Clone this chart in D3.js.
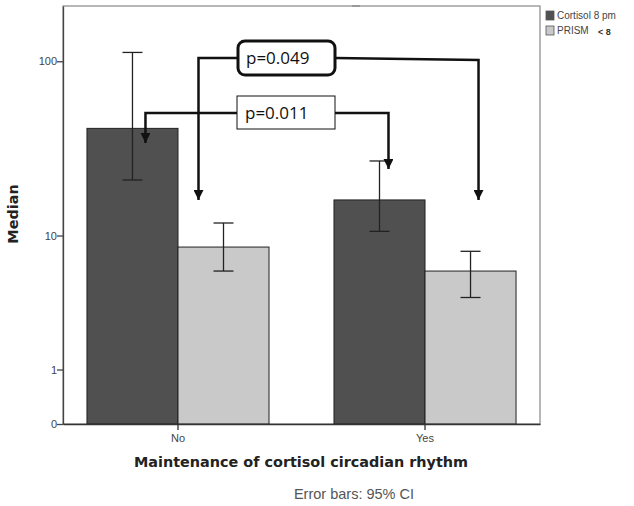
<!DOCTYPE html>
<html><head><meta charset="utf-8">
<script src="https://cdn.jsdelivr.net/npm/d3@7"></script>
<style>body{margin:0;background:#fff}svg{display:block}</style>
</head><body>
<script>
const categories = ["No", "Yes"];
const seriesNames = ["Cortisol 8 pm", "PRISM"];
const cortisolMedian = [42, 16.3];
const cortisolLow = [21.3, 10.6];
const cortisolHigh = [112, 27.4];
const prismMedian = [8.5, 6.0];
const prismLow = [6.0, 4.0];
const prismHigh = [11.9, 8.0];
const yTicks = [0, 1, 10, 100];
const pLabels = ["p=0.011", "p=0.049"];

const W = 634, H = 506;
const svg = d3.select("body").append("svg").attr("width", W).attr("height", H);
const L = 63, R = 540, T = 6, B = 424;

const y = d3.scaleSymlog().constant(1).domain([0, 203]).range([B, T]);
const x0 = d3.scaleBand().domain(categories).range([L, R]).paddingInner(0.263).paddingOuter(0.097);
const x1 = d3.scaleBand().domain(seriesNames).range([0, x0.bandwidth()]);
const colors = {"Cortisol 8 pm": "#505050", "PRISM": "#c9c9c9"};

const rows = categories.map((c, i) => [
  {cat: c, s: seriesNames[0], v: cortisolMedian[i], lo: cortisolLow[i], hi: cortisolHigh[i]},
  {cat: c, s: seriesNames[1], v: prismMedian[i], lo: prismLow[i], hi: prismHigh[i]}
]).flat();

// frame
svg.append("rect").attr("x", L).attr("y", T).attr("width", R - L).attr("height", B - T)
  .attr("fill", "none").attr("stroke", "#888").attr("stroke-width", 1.2);
svg.append("line").attr("x1", 352).attr("x2", 360).attr("y1", T).attr("y2", T).attr("stroke", "#999").attr("stroke-width", 2);

// bars
svg.selectAll("rect.bar").data(rows).enter().append("rect")
  .attr("x", d => x0(d.cat) + x1(d.s))
  .attr("y", d => y(d.v))
  .attr("width", x1.bandwidth())
  .attr("height", d => B - y(d.v))
  .attr("fill", d => colors[d.s])
  .attr("stroke", "#222").attr("stroke-width", 1);

// error bars
const eb = svg.append("g").attr("stroke", "#222").attr("stroke-width", 1.3);
rows.forEach(d => {
  const cx = x0(d.cat) + x1(d.s) + x1.bandwidth() / 2;
  eb.append("line").attr("x1", cx).attr("x2", cx).attr("y1", y(d.hi)).attr("y2", y(d.lo));
  eb.append("line").attr("x1", cx - 10).attr("x2", cx + 10).attr("y1", y(d.hi)).attr("y2", y(d.hi));
  eb.append("line").attr("x1", cx - 10).attr("x2", cx + 10).attr("y1", y(d.lo)).attr("y2", y(d.lo));
});

// axes
const yAxis = d3.axisLeft(y).tickValues(yTicks).tickFormat(d3.format("d")).tickSize(6).tickSizeOuter(0);
const gy = svg.append("g").attr("transform", `translate(${L},0)`).call(yAxis);
gy.select(".domain").attr("stroke", "#444").attr("stroke-width", 1.3);
gy.selectAll(".tick line").attr("stroke", "#444").attr("stroke-width", 1.3);
gy.selectAll("text").attr("font-family", "Liberation Sans, Arial, sans-serif").attr("font-size", 11).attr("fill", "#444").attr("x", -6);

const xAxis = d3.axisBottom(x0).tickSize(6).tickSizeOuter(0);
const gx = svg.append("g").attr("transform", `translate(0,${B})`).call(xAxis);
gx.selectAll(".tick").attr("transform", d => `translate(${x0(d) + x0.bandwidth() / 2},0)`);
gx.select(".domain").attr("stroke", "#333").attr("stroke-width", 1.5);
gx.selectAll(".tick line").attr("stroke", "#333").attr("stroke-width", 1.3);
gx.selectAll("text").attr("font-family", "Liberation Sans, Arial, sans-serif").attr("font-size", 11).attr("fill", "#444").attr("dy", "0.85em");

// titles
svg.append("text").attr("x", 301).attr("y", 467).attr("text-anchor", "middle")
  .attr("font-family", "DejaVu Sans, Verdana, sans-serif").attr("font-weight", "bold").attr("font-size", 14.4).attr("fill", "#222")
  .text("Maintenance of cortisol circadian rhythm");
svg.append("text").attr("transform", `translate(18,214) rotate(-90)`).attr("text-anchor", "middle")
  .attr("font-family", "DejaVu Sans, Verdana, sans-serif").attr("font-weight", "bold").attr("font-size", 14.4).attr("fill", "#222")
  .text("Median");
svg.append("text").attr("x", 354).attr("y", 499).attr("text-anchor", "middle")
  .attr("font-family", "Liberation Sans, Arial, sans-serif").attr("font-size", 14.5).attr("fill", "#555")
  .text("Error bars: 95% CI");

// legend
const lg = svg.append("g").attr("font-family", "Liberation Sans, Arial, sans-serif").attr("font-size", 10).attr("fill", "#444");
seriesNames.forEach((s, i) => {
  lg.append("rect").attr("x", 546).attr("y", 11 + i * 15).attr("width", 8).attr("height", 9)
    .attr("fill", colors[s]).attr("stroke", "#555").attr("stroke-width", 0.8);
  lg.append("text").attr("x", 557).attr("y", 19 + i * 15).text(s);
});
lg.append("text").attr("x", 598).attr("y", 35).attr("font-size", 9).attr("font-weight", "bold").attr("fill", "#333").text("< 8");

// annotations
const cxOf = (c, s) => x0(c) + x1(s) + x1.bandwidth() / 2;
svg.append("defs").append("marker").attr("id", "ah").attr("viewBox", "0 0 10 10")
  .attr("refX", 10).attr("refY", 5).attr("markerWidth", 13).attr("markerHeight", 10)
  .attr("markerUnits", "userSpaceOnUse").attr("orient", "auto")
  .append("path").attr("d", "M0,0 L10,5 L0,10 Z").attr("fill", "#111");

function bracket(xl, xr, yLine, yl, yr, bx, bw, by, bh, rounded, label, sw) {
  const g = svg.append("g");
  g.append("path").attr("d", `M${bx},${yLine} L${xl},${yLine} L${xl},${yl}`)
    .attr("fill", "none").attr("stroke", "#111").attr("stroke-width", sw).attr("marker-end", "url(#ah)");
  g.append("path").attr("d", `M${bx + bw},${yLine} L${xr},${yLine + (rounded ? 2 : 0)} L${xr},${yr}`)
    .attr("fill", "none").attr("stroke", "#111").attr("stroke-width", sw).attr("marker-end", "url(#ah)");
  g.append("rect").attr("x", bx).attr("y", by).attr("width", bw).attr("height", bh)
    .attr("rx", rounded ? 7 : 0).attr("fill", "#fff").attr("stroke", "#111").attr("stroke-width", rounded ? 3 : 1);
  g.append("text").attr("x", bx + 8).attr("y", by + bh / 2 + 6).attr("font-family", "Open Sans, Liberation Sans, sans-serif")
    .attr("font-size", 17).attr("fill", "#111").text(label);
}
bracket(cxOf("No", seriesNames[0]) + 13, cxOf("Yes", seriesNames[0]) + 9, 113, 143, 169, 237, 98, 96, 33, false, pLabels[0], 2.5);
bracket(cxOf("No", seriesNames[1]) - 25, cxOf("Yes", seriesNames[1]) + 8, 58, 200, 200, 238, 97, 41, 34, true, pLabels[1], 2.5);
</script>
</body></html>
